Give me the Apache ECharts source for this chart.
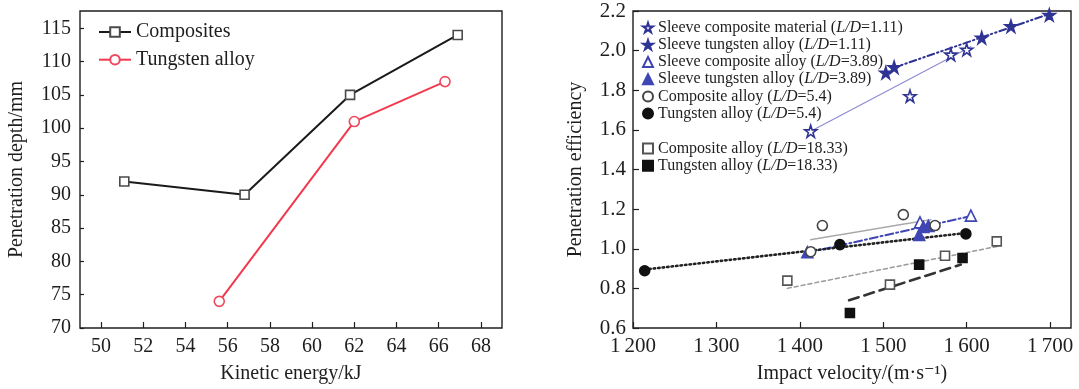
<!DOCTYPE html>
<html lang="en">
<head>
<meta charset="UTF-8" />
<title>Penetration depth and penetration efficiency</title>
<script src="https://cdn.jsdelivr.net/npm/echarts@6.0.0/dist/echarts.min.js"></script>
<style>
    html, body { margin: 0; padding: 0; background: #ffffff; }
    #main { width: 1079px; height: 389px; }
</style>
</head>
<body>
<div id="main"></div>
<script type="text/javascript">
// left panel: penetration depth vs kinetic energy
var energyTicks = [50, 52, 54, 56, 58, 60, 62, 64, 66, 68];
var depthTicks = [70, 75, 80, 85, 90, 95, 100, 105, 110, 115];
var compositesEnergy = [51.1, 56.8, 61.8, 66.9];
var compositesDepth = [92, 90, 105, 114];
var tungstenEnergy = [55.6, 62.0, 66.3];
var tungstenDepth = [74, 101, 107];

// right panel: penetration efficiency vs impact velocity, [velocity, efficiency]
var velocityTicks = [1200, 1300, 1400, 1500, 1600, 1700];
var efficiencyTicks = [0.6, 0.8, 1.0, 1.2, 1.4, 1.6, 1.8, 2.0, 2.2];
var sleeveComposite111 = [[1413, 1.593], [1532, 1.77], [1581, 1.98], [1600, 2.005]];
var sleeveTungsten111 = [[1503, 1.888], [1513, 1.916], [1618, 2.065], [1653, 2.123], [1699, 2.18]];
var sleeveComposite389 = [[1544, 1.133], [1605, 1.167]];
var sleeveTungsten389 = [[1409, 0.982], [1543, 1.07], [1548, 1.11], [1554, 1.115]];
var composite54 = [[1413, 0.985], [1427, 1.117], [1524, 1.172], [1562, 1.117]];
var tungsten54 = [[1214, 0.889], [1448, 1.021], [1599, 1.075]];
var composite1833 = [[1385, 0.839], [1508, 0.819], [1574, 0.965], [1636, 1.037]];
var tungsten1833 = [[1460, 0.676], [1543, 0.92], [1595, 0.953]];

// fitted trend lines, two end points each
var fitSleeveComposite111 = [[1413, 1.593], [1605, 2.02]];
var fitSleeveTungsten111 = [[1510, 1.91], [1699, 2.185]];
var fitSleeve389 = [[1409, 0.98], [1605, 1.165]];
var fitComposite54 = [[1413, 1.046], [1557, 1.147]];
var fitTungsten54 = [[1214, 0.895], [1600, 1.08]];
var fitComposite1833 = [[1385, 0.80], [1637, 1.012]];
var fitTungsten1833 = [[1459, 0.74], [1593, 0.92]];

var serif = "'Liberation Serif', 'Times New Roman', 'DejaVu Serif', serif";
var ink = '#1e1e1e';
var star = 'path://M50,0L61.23,34.55L97.55,34.55L68.16,55.9L79.39,90.45L50,69.1L20.61,90.45L31.84,55.9L2.45,34.55L38.77,34.55Z';

function zip(xs, ys) {
    return xs.map(function (x, i) { return [x, ys[i]]; });
}

function baseAxis(gridIndex, ticks, tickLen, fmt, size) {
    return {
        type: 'value',
        gridIndex: gridIndex,
        splitLine: { show: false },
        axisLine: { show: false },
        axisTick: { show: true, inside: true, length: tickLen, customValues: ticks, lineStyle: { color: ink, width: 1.2 } },
        axisLabel: { customValues: ticks, color: ink, fontFamily: serif, fontSize: size, formatter: fmt },
        nameTextStyle: { color: ink, fontFamily: serif, fontSize: 20 },
        nameLocation: 'middle'
    };
}

var xLeft = baseAxis(0, energyTicks, 6, '{value}', 20);
xLeft.min = 49; xLeft.max = 69;
xLeft.name = 'Kinetic energy/kJ'; xLeft.nameGap = 36;
xLeft.axisLabel.margin = 9;

var yLeft = baseAxis(0, depthTicks, 4, '{value}', 20);
yLeft.min = 70; yLeft.max = 117.6;
yLeft.name = 'Penetration depth/mm'; yLeft.nameGap = 53;
yLeft.axisLabel.margin = 9;

var xRight = baseAxis(1, velocityTicks, 6, function (v) {
    return String(v).replace(/^(\d)(\d{3})$/, '$1\u2009$2');
}, 21);
xRight.min = 1200; xRight.max = 1725;
xRight.name = 'Impact velocity/(m\u00b7s\u207b\u00b9)'; xRight.nameGap = 36;
xRight.axisLabel.margin = 8;

var yRight = baseAxis(1, efficiencyTicks, 6, function (v) { return v.toFixed(1); }, 21);
yRight.min = 0.6; yRight.max = 2.2;
yRight.name = 'Penetration efficiency'; yRight.nameGap = 47;
yRight.axisLabel.margin = 7;

function points(name, data, symbol, size, fill, edge) {
    return {
        name: name, type: 'scatter', xAxisIndex: 1, yAxisIndex: 1,
        data: data, symbol: symbol, symbolSize: size, z: 5,
        itemStyle: { color: fill, borderColor: edge, borderWidth: 1.6, opacity: 1 }
    };
}

function trend(id, data, color, width, dash) {
    return {
        name: id, type: 'line', xAxisIndex: 1, yAxisIndex: 1,
        data: data, showSymbol: false, symbol: 'none', silent: true, z: 2,
        lineStyle: { color: color, width: width, type: dash, cap: 'round' }
    };
}

var navy = '#2f3494';
var blue = '#3f46b4';

var names = [
    'Sleeve composite material (L/D=1.11)',
    'Sleeve tungsten alloy (L/D=1.11)',
    'Sleeve composite alloy (L/D=3.89)',
    'Sleeve tungsten alloy (L/D=3.89)',
    'Composite alloy (L/D=5.4)',
    'Tungsten alloy (L/D=5.4)',
    'Composite alloy (L/D=18.33)',
    'Tungsten alloy (L/D=18.33)'
];

var legendText = {
    color: ink, fontFamily: serif, fontSize: 16, lineHeight: 17.2,
    rich: { i: { fontStyle: 'italic', color: ink, fontFamily: serif, fontSize: 16, lineHeight: 17.2 } }
};
function italicLD(name) { return name.replace('L/D', '{i|L/D}'); }

var chart = echarts.init(document.getElementById('main'));
var option = {
    backgroundColor: '#ffffff',
    animation: false,
    grid: [
        { left: 80, top: 11, width: 422, height: 317, show: true, borderColor: ink, borderWidth: 1.4, backgroundColor: 'transparent', outerBoundsMode: 'none' },
        { left: 633, top: 11, width: 438, height: 317, show: true, borderColor: ink, borderWidth: 1.4, backgroundColor: 'transparent', outerBoundsMode: 'none' }
    ],
    xAxis: [xLeft, xRight],
    yAxis: [yLeft, yRight],
    legend: [
        {
            data: ['Composites', 'Tungsten alloy'],
            orient: 'vertical', left: 93, top: 17, padding: 5, itemWidth: 32, itemHeight: 12, itemGap: 7.7,
            textStyle: { color: ink, fontFamily: serif, fontSize: 20, lineHeight: 20 }
        },
        {
            data: names.slice(0, 6),
            orient: 'vertical', left: 637, top: 14, padding: 5, itemWidth: 10, itemHeight: 10, itemGap: 0,
            formatter: italicLD, textStyle: legendText
        },
        {
            data: names.slice(6),
            orient: 'vertical', left: 637, top: 135, padding: 5, itemWidth: 10, itemHeight: 10, itemGap: 0,
            formatter: italicLD, textStyle: legendText
        }
    ],
    series: [
        {
            name: 'Composites', type: 'line', xAxisIndex: 0, yAxisIndex: 0,
            data: zip(compositesEnergy, compositesDepth),
            symbol: 'rect', symbolSize: 9, z: 3,
            lineStyle: { color: '#1a1a1a', width: 2 },
            itemStyle: { color: '#ffffff', borderColor: '#4a4a4a', borderWidth: 1.6 }
        },
        {
            name: 'Tungsten alloy', type: 'line', xAxisIndex: 0, yAxisIndex: 0,
            data: zip(tungstenEnergy, tungstenDepth),
            symbol: 'circle', symbolSize: 10, z: 3,
            lineStyle: { color: '#f23a4f', width: 2 },
            itemStyle: { color: '#ffffff', borderColor: '#f0485c', borderWidth: 1.6 }
        },

        trend('fit-sc111', fitSleeveComposite111, '#8f8bd2', 1.2, 'solid'),
        trend('fit-st111', fitSleeveTungsten111, navy, 2, [7, 3, 1.5, 3, 1.5, 3]),
        trend('fit-s389', fitSleeve389, blue, 2, [8, 3, 2, 3]),
        trend('fit-c54', fitComposite54, '#a8a8a8', 1.5, [2, 1]),
        trend('fit-t54', fitTungsten54, '#222222', 2.6, [1.5, 3]),
        trend('fit-c1833', fitComposite1833, '#9a9a9a', 1.5, [4, 3]),
        trend('fit-t1833', fitTungsten1833, '#333333', 2.6, [10, 6]),

        points(names[0], sleeveComposite111, star, 12, '#ffffff', navy),
        points(names[1], sleeveTungsten111, star, 12, navy, navy),
        points(names[2], sleeveComposite389, 'triangle', 11, '#ffffff', blue),
        points(names[3], sleeveTungsten389, 'triangle', 11, blue, blue),
        points(names[4], composite54, 'circle', 10, '#ffffff', '#444444'),
        points(names[5], tungsten54, 'circle', 10, '#111111', '#111111'),
        points(names[6], composite1833, 'rect', 9, '#ffffff', '#555555'),
        points(names[7], tungsten1833, 'rect', 9, '#111111', '#111111')
    ]
};
option && chart.setOption(option);
</script>
</body>
</html>
